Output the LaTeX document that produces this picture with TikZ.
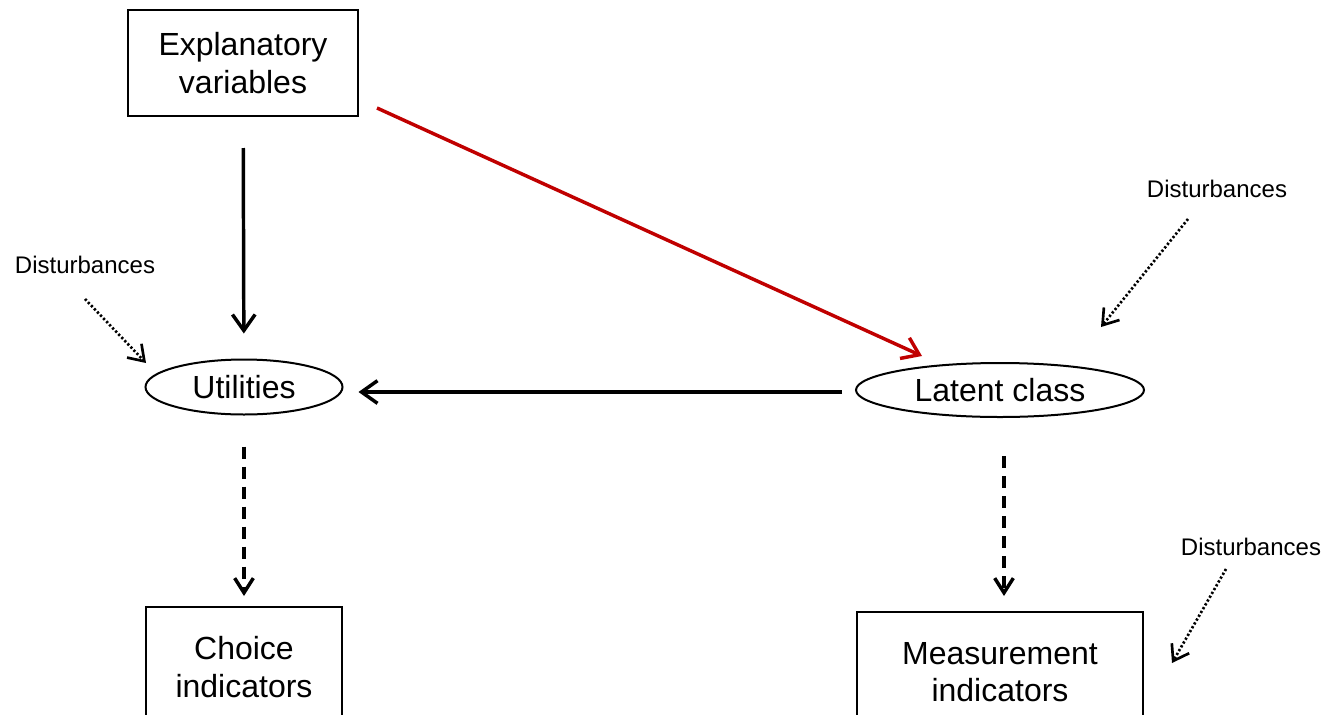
\documentclass[tikz,border=0pt]{standalone}
\usepackage{fontspec}
\setmainfont{Liberation Sans}
\usetikzlibrary{arrows.meta,shapes.geometric}
\definecolor{linkred}{RGB}{192,0,0}
\begin{document}
\begin{tikzpicture}[x=0.75pt,y=-0.75pt,
  every node/.style={font=\fontsize{24pt}{28pt}\selectfont, align=center, inner sep=0pt},
  box/.style={draw, line width=1.5pt, rectangle},
  oval/.style={draw, line width=1.5pt, ellipse},
  note/.style={font=\fontsize{18pt}{21pt}\selectfont, anchor=base},
  barb/.style={-{Straight Barb[length=12pt,width=17pt]}},
  solidarrow/.style={barb, line width=2.6pt},
  redarrow/.style={barb, line width=2.6pt, draw=linkred},
  dasharrow/.style={-{Straight Barb[length=11pt,width=14pt]}, line width=2.6pt, dash pattern=on 9pt off 6pt},
  dotarrow/.style={-{Straight Barb[length=11pt,width=15pt,line width=2pt]}, line width=2pt, dash pattern=on 1.7pt off 1.6pt}]
\useasboundingbox (0,0) rectangle (1324,714);
\clip (0,0) rectangle (1324,714);

% blocks and latent variables
\node[box, minimum width=172.5pt, minimum height=79.5pt] (expl) at (243,63) {Explanatory\\variables};
\node[oval, minimum width=147.75pt, minimum height=41.25pt] (util) at (244,387) {Utilities};
\node[oval, minimum width=216pt, minimum height=40.5pt] (lat) at (1000,390) {Latent class};
\node[box, minimum width=147pt, minimum height=90pt] (choice) at (244,667) {Choice\\indicators};
\node[box, minimum width=214.5pt, minimum height=90pt] (meas) at (1000,672) {Measurement\\indicators};

% disturbance labels
\node[note] (dl) at (85,273) {Disturbances};
\node[note] (dr) at (1217,197) {Disturbances};
\node[note] (dm) at (1251,555) {Disturbances};
\coordinate (dl-end) at (146,363);
\coordinate (dr-end) at (1101,327);
\coordinate (dm-end) at (1172,663);

% structural relations
\draw[solidarrow, shorten <=23.25pt, shorten >=18.75pt] (expl) -- (util);
\draw[redarrow] ([shift={(18,-9)}]expl.south east) -- ([shift={(-78,-6)}]lat.north);
\draw[solidarrow, shorten <=9.75pt, shorten >=11.25pt] ([yshift=-1.5pt]lat.west) -- ([yshift=-1.5pt]util.east |- lat.west);

% measurement relations
\draw[dasharrow, shorten <=23.25pt, shorten >=7.5pt] (util) -- (choice);
\draw[dasharrow, shorten <=28.5pt, shorten >=11.25pt] ([xshift=3pt]lat.south) -- ([xshift=3pt]meas.north);

% error terms
\draw[dotarrow] ([shift={(0,26)}]dl.base) -- (dl-end);
\draw[dotarrow] ([shift={(-29,22)}]dr.base) -- (dr-end);
\draw[dotarrow] ([shift={(-25,14)}]dm.base) -- (dm-end);
\end{tikzpicture}
\end{document}
